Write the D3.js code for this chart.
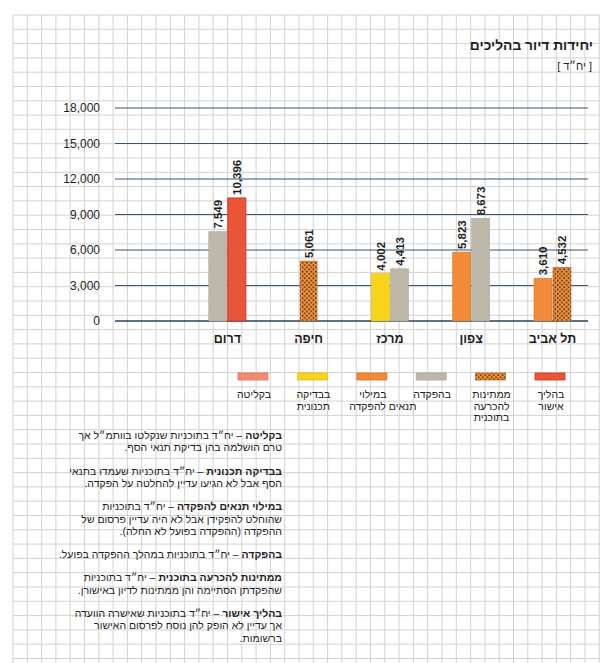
<!DOCTYPE html>
<html><head><meta charset="utf-8">
<script src="https://cdn.jsdelivr.net/npm/d3@7"></script>
<style>
html,body{margin:0;padding:0;background:#fff;}
svg{display:block;}
text{font-family:"Liberation Sans","DejaVu Sans",sans-serif;fill:#1e1e1e;}
</style></head>
<body>
<script>
// ---- data ----
const categories = ["תל אביב","צפון","מרכז","חיפה","דרום"]; // right to left
const seriesNames = ["בהליך אישור","ממתינות להכרעה בתוכנית","בהפקדה","במילוי תנאים להפקדה","בבדיקה תכנונית","בקליטה"];
const seriesLegendLines = [["בהליך","אישור"],["ממתינות","להכרעה","בתוכנית"],["בהפקדה"],["במילוי","תנאים להפקדה"],["בבדיקה","תכנונית"],["בקליטה"]];
const seriesColors = ["#ea5538","url(#dots)","#bdb8aa","#f18b3a","#f7d31a","#f08c74"];
const seriesStroke = ["#c8372a","#c06a28","#aaa597","#d8772c","#e2bf10","#d9735e"];
// values per region, in series order (null = no bar)
const valTelAviv = [null,4532,null,3610,null,null];
const valTzafon  = [null,null,8673,5823,null,null];
const valMerkaz  = [null,null,4413,null,4002,null];
const valHaifa   = [null,5061,null,null,null,null];
const valDarom   = [10396,null,7549,null,null,null];
const regionValues = [valTelAviv,valTzafon,valMerkaz,valHaifa,valDarom];
const yTicks = [0,3000,6000,9000,12000,15000,18000];
const title = "יחידות דיור בהליכים";
const subtitle = "[ יח״ד ]";
const notes = [
  [["בקליטה",true],[" – יח״ד בתוכניות שנקלטו בוותמ״ל אך",false]],
  [["טרם הושלמה בהן בדיקת תנאי הסף.",false]],
  null,
  [["בבדיקה תכנונית",true],[" – יח״ד בתוכניות שעמדו בתנאי",false]],
  [["הסף אבל לא הגיעו עדיין להחלטה על הפקדה.",false]],
  null,
  [["במילוי תנאים להפקדה",true],[" – יח״ד בתוכניות",false]],
  [["שהוחלט להפקידן אבל לא היה עדיין פרסום של",false]],
  [["ההפקדה (ההפקדה בפועל לא החלה).",false]],
  null,
  [["בהפקדה",true],[" – יח״ד בתוכניות במהלך ההפקדה בפועל.",false]],
  null,
  [["ממתינות להכרעה בתוכנית",true],[" – יח״ד בתוכניות",false]],
  [["שהפקדתן הסתיימה והן ממתינות לדיון באישורן.",false]],
  null,
  [["בהליך אישור",true],[" – יח״ד בתוכניות שאישרה הוועדה",false]],
  [["אך עדיין לא הופק להן נוסח לפרסום האישור",false]],
  [["ברשומות.",false]]
];

const W = 610, H = 663;
const svg = d3.select("body").append("svg").attr("width",W).attr("height",H);
const defs = svg.append("defs");
const pat = defs.append("pattern").attr("id","dots").attr("patternUnits","userSpaceOnUse")
  .attr("width",4.4).attr("height",4.4);
pat.append("rect").attr("width",4.4).attr("height",4.4).attr("fill","#f0923c");
pat.append("circle").attr("cx",1.1).attr("cy",1.1).attr("r",0.85).attr("fill","#3b1e0c");
pat.append("circle").attr("cx",3.3).attr("cy",3.3).attr("r",0.85).attr("fill","#3b1e0c");

// background grid
const cell = 14.3, gx0 = 13, gy0 = 15, gx1 = 600;
const bg = svg.append("g").attr("stroke","#d2d2d2").attr("stroke-width",1);
d3.range(gx0, gx1+0.1, cell).forEach(x=>bg.append("line").attr("x1",x).attr("x2",x).attr("y1",gy0).attr("y2",H));
d3.range(gy0, H, cell).forEach(y=>bg.append("line").attr("x1",gx0).attr("x2",gx1).attr("y1",y).attr("y2",y));

// title
svg.append("text").attr("x",593).attr("y",50).attr("direction","rtl").attr("text-anchor","start")
  .attr("font-size",13.8).attr("font-weight","bold").text(title);
svg.append("text").attr("x",592).attr("y",70).attr("direction","ltr").attr("text-anchor","end")
  .attr("font-size",11).text(subtitle);

// scales
const y = d3.scaleLinear().domain([0,18000]).range([321,108]);
const x = d3.scalePoint().domain(categories).range([552.5,227.3]);

// gridlines + y labels
const gl = svg.append("g");
yTicks.forEach(t=>{
  gl.append("line").attr("x1",115).attr("x2",588).attr("y1",y(t)).attr("y2",y(t))
    .attr("stroke", t===0 ? "#2e4258" : "#3b5570").attr("stroke-width", t===0?1.6:1.2);
  gl.append("text").attr("x",100).attr("y",y(t)).attr("dy","0.36em").attr("text-anchor","end")
    .attr("font-size",12).attr("fill","#333").text(d3.format(",")(t));
});

// bars
const barW = 18, gap = 1;
const fmt = d3.format(",");
categories.forEach((c,ci)=>{
  const vals = regionValues[ci];
  const present = seriesNames.map((s,i)=>i).filter(i=>vals[i]!==null).reverse(); // left-to-right
  const total = present.length*barW + (present.length-1)*gap;
  const inner = d3.scaleBand().domain(present).range([-total/2,total/2]).paddingInner(gap/(barW+gap));
  present.forEach(si=>{
    const bx = x(c)+inner(si), v = vals[si];
    svg.append("rect").attr("x",bx).attr("y",y(v)).attr("width",inner.bandwidth()).attr("height",y(0)-y(v))
      .attr("fill",seriesColors[si]).attr("stroke",seriesStroke[si]).attr("stroke-width",si===0?1:0.6);
    svg.append("text").attr("transform",`translate(${bx+inner.bandwidth()/2},${y(v)-3}) rotate(-90)`)
      .attr("dy","0.36em").attr("text-anchor","start").attr("font-size",11.5).attr("font-weight","bold")
      .attr("font-family","'Liberation Sans Narrow','Liberation Sans',sans-serif").text(fmt(v));
  });
  svg.append("text").attr("x",x(c)).attr("y",343).attr("text-anchor","middle").attr("font-size",12.5)
    .attr("font-weight","bold").text(c);
});

// legend
const lx = d3.scalePoint().domain(seriesNames).range([550,253]);
seriesNames.forEach((s,si)=>{
  const cx = lx(s);
  svg.append("rect").attr("x",cx-15).attr("y",373).attr("width",30).attr("height",7)
    .attr("fill",seriesColors[si]).attr("stroke",seriesStroke[si]).attr("stroke-width",0.8);
  seriesLegendLines[si].forEach((ln,li)=>{
    const off = (li>0 && ln.length>8) ? 11 : 1;
    svg.append("text").attr("x",cx+off).attr("y",398+li*11.6).attr("direction","rtl").attr("text-anchor","middle")
      .attr("font-size",10.5).text(ln);
  });
});

// notes
let ny = 439;
notes.forEach(n=>{
  if(n){
    const t = svg.append("text").attr("x",282).attr("y",ny).attr("direction","rtl").attr("text-anchor","start")
      .attr("font-size",10.5);
    n.forEach(([s,b])=>t.append("tspan").attr("font-weight",b?"bold":"normal").text(s));
    ny += 12.3;
  } else ny += 11;
});
</script>
</body></html>
